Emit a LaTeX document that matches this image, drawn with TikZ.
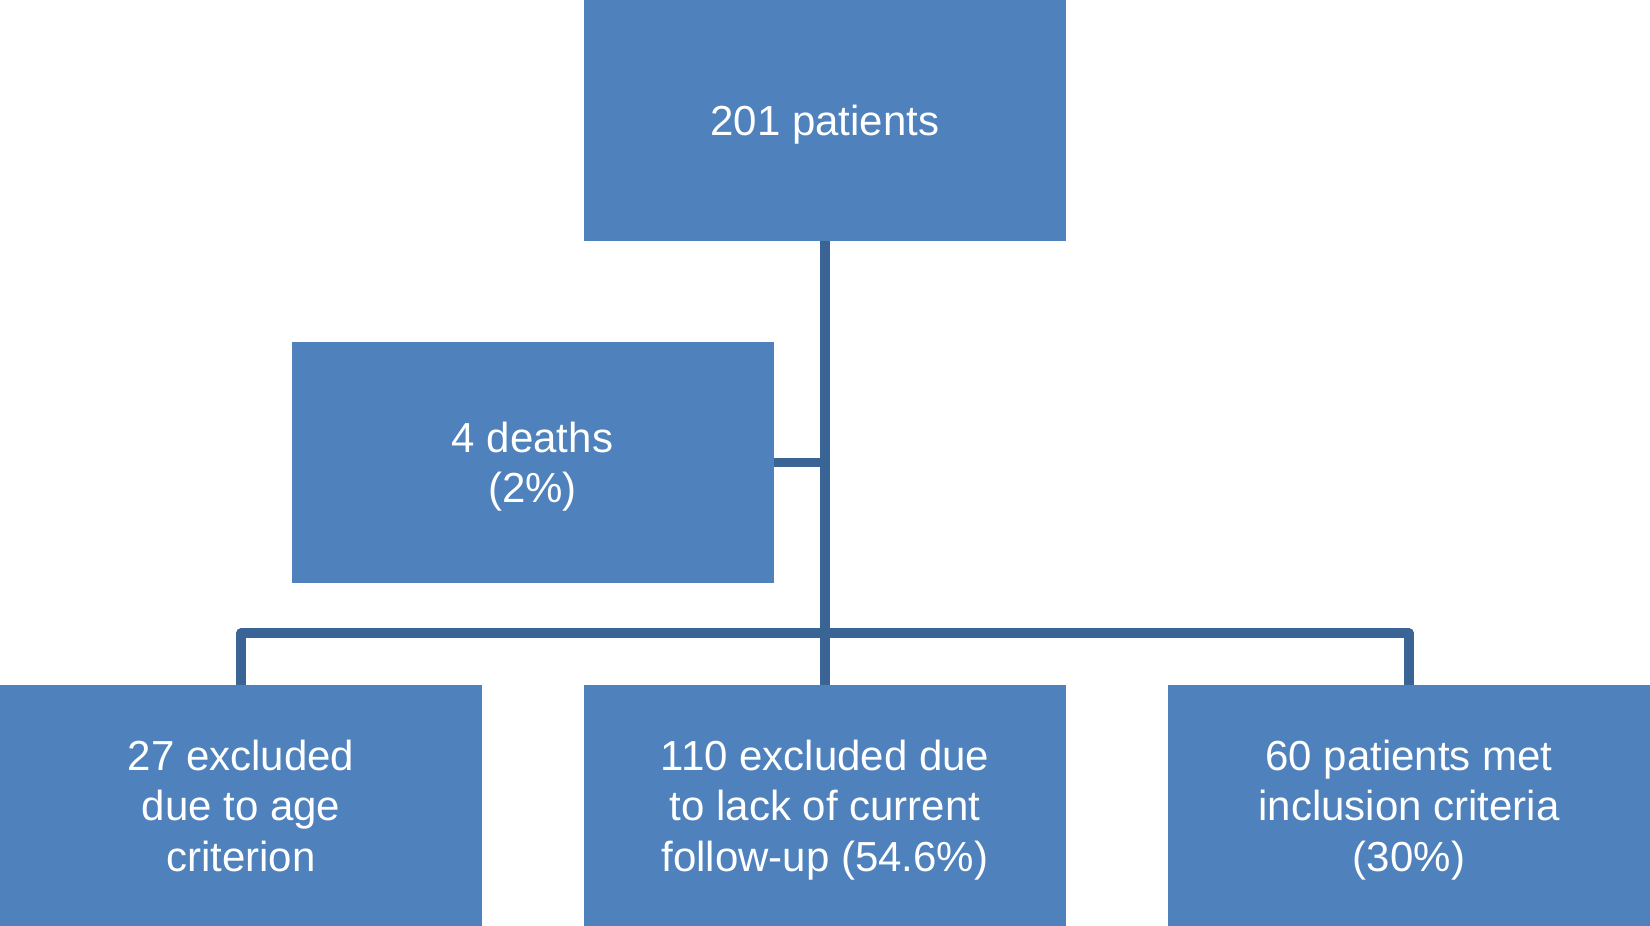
\documentclass[tikz,border=0pt]{standalone}
\usepackage{fontspec}
\setmainfont{Liberation Sans}
\definecolor{boxblue}{HTML}{4F81BD}
\definecolor{linkblue}{HTML}{3B6496}
\newcommand\tstr{\rule{0pt}{20pt}}
\newcommand\bstr{\rule[-5pt]{0pt}{5pt}}
\begin{document}
\begin{tikzpicture}[x=0.5pt,y=-0.5pt,
  box/.style={fill=boxblue,draw=none,inner sep=0pt,minimum width=241pt,minimum height=120.5pt,
    text=white,align=center,font=\fontsize{21pt}{25.25pt}\selectfont},
  link/.style={draw=linkblue,line width=4.6pt,line join=round}]
\useasboundingbox (0,0) rectangle (1650,926);
\node[box] (top) at (825,120) {\tstr 201 patients\bstr};
\node[box] (deaths) at (532.5,462.5) {\tstr 4 deaths\\(2\%)\bstr};
\node[box] (left) at (241,805.5) {\tstr 27 excluded\\due to age\\criterion\bstr};
\node[box] (mid) at (825,805.5) {\tstr 110 excluded due\\to lack of current\\follow-up (54.6\%)\bstr};
\node[box] (right) at (1409,805.5) {\tstr 60 patients met\\inclusion criteria\\(30\%)\bstr};
\coordinate (br) at (825,633);
\draw[link] (top.south) -- (mid.north);
\draw[link] (deaths.east) -- (deaths.east -| top.south);
\draw[link] (left.north) |- (br) -| (right.north);
\end{tikzpicture}
\end{document}
